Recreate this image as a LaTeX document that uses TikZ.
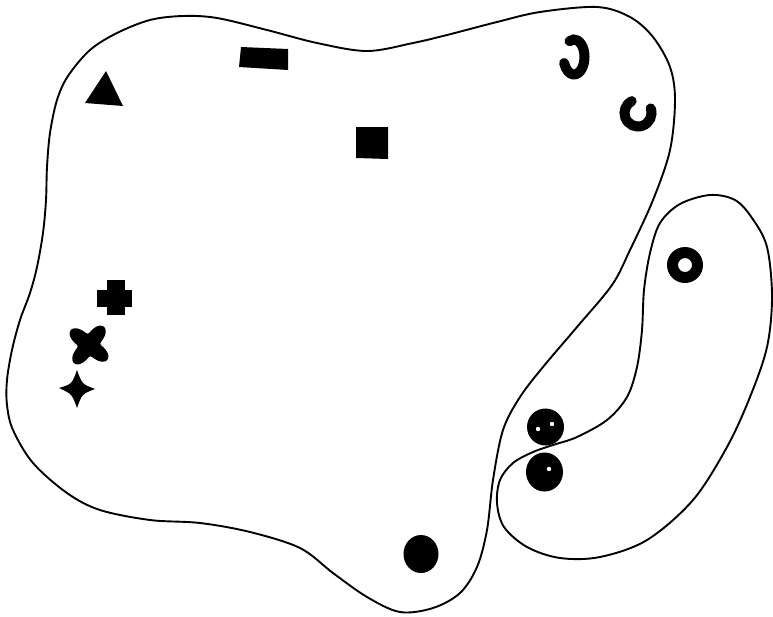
\documentclass[tikz,border=0pt]{standalone}
\begin{document}
\begin{tikzpicture}[x=1pt,y=-1pt,
  outline/.style={draw=black,line width=1.9pt,line join=round},
  solid/.style={fill=black},
  hook/.style={draw=black,line width=10pt,line cap=round}]
\useasboundingbox (0,0) rectangle (773,616);
% big region
\draw[outline] plot[smooth cycle,tension=0.55] coordinates {
 (183,16) (217,18) (267,30) (317,43) (367,51) (413,43) (447,35) (497,22)
 (540,12) (597,7) (630,17) (653,37) (670,67) (675,100) (670,150) (653,200)
 (630,250) (612,285) (577,327) (543,367) (520,397) (503,430) (493,480)
 (487,530) (477,567) (460,593) (433,608) (400,612) (367,597) (333,573)
 (300,548) (250,532) (200,523) (150,520) (100,510) (67,493) (33,463)
 (13,430) (7,405) (7,380) (12,350) (20,320) (30,293) (37,267) (43,233)
 (46,200) (47,167) (50,133) (57,100) (68,76) (90,50) (117,33) (150,20)};
% small region
\draw[outline] plot[smooth cycle,tension=0.55] coordinates {
 (710,195) (735,200) (752,218) (767,247) (772,297) (767,347) (750,397)
 (727,447) (693,500) (647,540) (600,557) (560,558) (527,547) (504,527)
 (497,503) (500,480) (513,463) (533,452) (553,445) (577,437) (607,420)
 (627,397) (637,367) (642,330) (644,290) (650,253) (660,223) (680,204)};
% triangle
\fill[solid] (106,71) -- (123,106) -- (85,103) -- cycle;
% bar
\fill[solid] (241,47) -- (288,49) -- (288,70) -- (239,67) -- cycle;
% square
\fill[solid] (356,127) -- (388,127) -- (388,159) -- (356,158) -- cycle;
% hooks
\draw[hook] (574,57) ++(-115:10.5 and 17.5) arc[start angle=-115,end angle=160,x radius=10.5,y radius=17.5];
\draw[hook] (638,113) ++(-20:13.5) arc[start angle=-20,end angle=242,radius=13.5];
% plus
\fill[solid] (107,280) rectangle (125,315);
\fill[solid] (97,290) rectangle (132,307);
% four-lobed blob
\fill[solid,shift={(89,345)}] plot[domain=0:360,samples=144,smooth cycle] (\x:{17.5+6*cos(4*(\x-39))});
% four-point star
\fill[solid] (77,370) .. controls (82,384) .. (95,389) .. controls (82,394) .. (77,408)
  .. controls (72,394) .. (59,388) .. controls (72,384) .. cycle;
% ring
\fill[solid,even odd rule] (685,265) circle[radius=18] (685,265) circle[radius=7];
% two buttons
\fill[solid] (545.5,427) circle[radius=18.5];
\fill[white] (538,429) circle[radius=2.2] (552,424) circle[radius=2.2];
\fill[solid] (544.5,472) ellipse[x radius=18.5,y radius=19.5];
\fill[white] (549,469) circle[radius=2.2];
% bottom dot
\fill[solid] (421,554) ellipse[x radius=17.5,y radius=19];
\end{tikzpicture}
\end{document}
